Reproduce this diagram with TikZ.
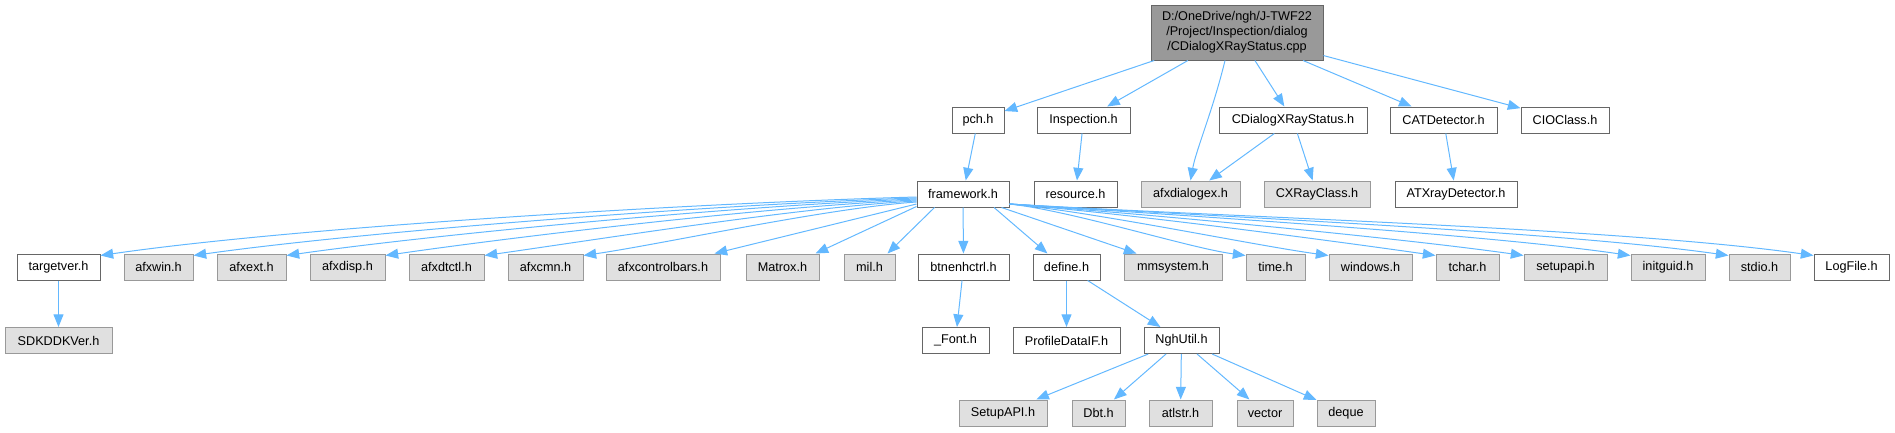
\documentclass[tikz,border=0pt]{standalone}
\usepackage{fontspec}
\setmainfont{Liberation Sans}
\usetikzlibrary{arrows.meta,calc}
\definecolor{edgeblue}{HTML}{63B8FF}
\definecolor{grayfill}{HTML}{E0E0E0}
\definecolor{grayline}{HTML}{999999}
\definecolor{darkline}{HTML}{666666}
\definecolor{rootfill}{HTML}{999999}
\newcommand{\mkbox}[6]{\node[#1, minimum width={(#4-#3)*0.75pt}] (#2) at ({(#3+#4)/2},#5) {#6};}
\begin{document}
\begin{tikzpicture}[x=0.75pt,y=-0.75pt,
  basebox/.style={draw, rectangle, inner sep=0pt, minimum height=19.5pt, line width=0.75pt,
    font=\fontsize{9.5}{11.25}\selectfont, text=black},
  wbox/.style={basebox, draw=darkline, fill=white},
  gbox/.style={basebox, draw=grayline, fill=grayfill},
  rootbox/.style={basebox, draw=darkline, fill=rootfill, align=center, minimum height=41.25pt},
  edge/.style={draw=edgeblue, line width=0.75pt, -{Triangle[length=9.5pt,width=7.5pt]}}]
\useasboundingbox (0,0) rectangle (1895,432);

% root
\mkbox{rootbox}{root}{1151}{1323}{32.5}{D:/OneDrive/ngh/J-TWF22\\/Project/Inspection/dialog\\/CDialogXRayStatus.cpp}

% row 1
\mkbox{wbox}{pch}{952}{1004}{120}{pch.h}
\mkbox{wbox}{insp}{1037}{1130}{120}{Inspection.h}
\mkbox{wbox}{cdlgh}{1219}{1367}{120}{CDialogXRayStatus.h}
\mkbox{wbox}{catdet}{1390}{1497}{120}{CATDetector.h}
\mkbox{wbox}{cio}{1521}{1609}{120}{CIOClass.h}

% row 2
\mkbox{wbox}{fw}{917}{1009}{194}{framework.h}
\mkbox{wbox}{res}{1034}{1117}{194}{resource.h}
\mkbox{gbox}{afxdlg}{1141}{1240}{194}{afxdialogex.h}
\mkbox{gbox}{cxray}{1264}{1370}{194}{CXRayClass.h}
\mkbox{wbox}{atx}{1395}{1517}{194}{ATXrayDetector.h}

% row 3
\mkbox{wbox}{targetver}{17}{100}{267}{targetver.h}
\mkbox{gbox}{afxwin}{124}{193}{267}{afxwin.h}
\mkbox{gbox}{afxext}{217}{286}{267}{afxext.h}
\mkbox{gbox}{afxdisp}{310}{385}{267}{afxdisp.h}
\mkbox{gbox}{afxdtctl}{409}{484}{267}{afxdtctl.h}
\mkbox{gbox}{afxcmn}{508}{583}{267}{afxcmn.h}
\mkbox{gbox}{afxcb}{606}{720}{267}{afxcontrolbars.h}
\mkbox{gbox}{matrox}{746}{819}{267}{Matrox.h}
\mkbox{gbox}{mil}{844}{895}{267}{mil.h}
\mkbox{wbox}{btn}{918}{1009}{267}{btnenhctrl.h}
\mkbox{wbox}{define}{1033}{1100}{267}{define.h}
\mkbox{gbox}{mmsys}{1124}{1222}{267}{mmsystem.h}
\mkbox{gbox}{timeh}{1246}{1305}{267}{time.h}
\mkbox{gbox}{windows}{1329}{1412}{267}{windows.h}
\mkbox{gbox}{tchar}{1436}{1499}{267}{tchar.h}
\mkbox{gbox}{setupapi}{1524}{1607}{267}{setupapi.h}
\mkbox{gbox}{initguid}{1631}{1705}{267}{initguid.h}
\mkbox{gbox}{stdio}{1729}{1790}{267}{stdio.h}
\mkbox{wbox}{logfile}{1814}{1889}{267}{LogFile.h}

% row 4
\mkbox{gbox}{sdk}{5}{112}{340.5}{SDKDDKVer.h}
\mkbox{wbox}{font}{922}{989}{340.5}{\_Font.h}
\mkbox{wbox}{pdif}{1013}{1120}{340.5}{ProfileDataIF.h}
\mkbox{wbox}{ngh}{1144}{1219}{340.5}{NghUtil.h}

% row 5
\mkbox{gbox}{setupAPI}{959}{1047}{413}{SetupAPI.h}
\mkbox{gbox}{dbt}{1072}{1125}{413}{Dbt.h}
\mkbox{gbox}{atlstr}{1149}{1212}{413}{atlstr.h}
\mkbox{gbox}{vector}{1237}{1293}{413}{vector}
\mkbox{gbox}{deque}{1317}{1375}{413}{deque}

% root edges
\draw[edge] (root) -- (pch);
\draw[edge] (root) -- (insp);
\draw[edge] ($(root.south)+(-12,0)$) .. controls (1213,110) and (1196,150) .. (afxdlg.north);
\draw[edge] (root) -- (cdlgh);
\draw[edge] (root) -- (catdet);
\draw[edge] (root) -- (cio);

% row 1 edges
\draw[edge] (pch) -- (fw);
\draw[edge] (insp) -- (res);
\draw[edge] (cdlgh) -- (afxdlg);
\draw[edge] (cdlgh) -- (cxray);
\draw[edge] (catdet) -- (atx);

% framework fan, left
\draw[edge] ($(fw.west)+(0,3)$) .. controls (696,203) and (296,227) .. ($(targetver.north east)+(0,2)$);
\draw[edge] ($(fw.west)+(0,4)$) .. controls (722,204) and (367,231) .. ($(afxwin.north east)+(0,2)$);
\draw[edge] ($(fw.west)+(0,5)$) .. controls (747,205) and (437,234) .. ($(afxext.north east)+(0,2)$);
\draw[edge] ($(fw.west)+(0,6)$) .. controls (773,206) and (513,237) .. ($(afxdisp.north east)+(0,2)$);
\draw[edge] ($(fw.west)+(0,7)$) .. controls (800,207) and (588,241) .. ($(afxdtctl.north east)+(0,2)$);
\draw[edge] ($(fw.west)+(0,8)$) .. controls (827,208) and (663,244) .. ($(afxcmn.north east)+(0,2)$);
\draw[edge] ($(fw.west)+(0,10)$) -- ($(afxcb.north east)+(-6,0)$);
\draw[edge] ($(fw.south west)+(0,-1)$) -- ($(matrox.north east)+(-4,0)$);
\draw[edge] ($(fw.south west)+(18,0)$) -- ($(mil.north east)+(-8,0)$);
\draw[edge] (fw) -- (btn);

% framework fan, right
\draw[edge] ($(fw.south)+(31,0)$) -- ($(define.north)+(-19,0)$);
\draw[edge] ($(fw.south east)+(-8,0)$) -- ($(mmsys.north west)+(13,0)$);
\draw[edge] ($(fw.east)+(0,10)$) .. controls (1073,211) and (1189,248) .. ($(timeh.north west)+(0,2)$);
\draw[edge] ($(fw.east)+(0,10)$) .. controls (1095,212) and (1252,245) .. ($(windows.north west)+(0,2)$);
\draw[edge] ($(fw.east)+(0,10)$) .. controls (1124,213) and (1334,241) .. ($(tchar.north west)+(0,2)$);
\draw[edge] ($(fw.east)+(0,10)$) .. controls (1148,214) and (1400,238) .. ($(setupapi.north west)+(0,2)$);
\draw[edge] ($(fw.east)+(0,10)$) .. controls (1177,215) and (1482,234) .. ($(initguid.north west)+(0,2)$);
\draw[edge] ($(fw.east)+(0,10)$) .. controls (1203,216) and (1556,231) .. ($(stdio.north west)+(0,2)$);
\draw[edge] ($(fw.east)+(0,10)$) .. controls (1226,217) and (1621,228) .. ($(logfile.north west)+(0,2)$);

% lower edges
\draw[edge] (targetver) -- (sdk);
\draw[edge] (btn) -- (font);
\draw[edge] (define) -- (pdif);
\draw[edge] (define) -- (ngh);
\draw[edge] (ngh) -- (setupAPI);
\draw[edge] (ngh) -- (dbt);
\draw[edge] (ngh) -- (atlstr);
\draw[edge] (ngh) -- (vector);
\draw[edge] (ngh) -- (deque);
\end{tikzpicture}
\end{document}
